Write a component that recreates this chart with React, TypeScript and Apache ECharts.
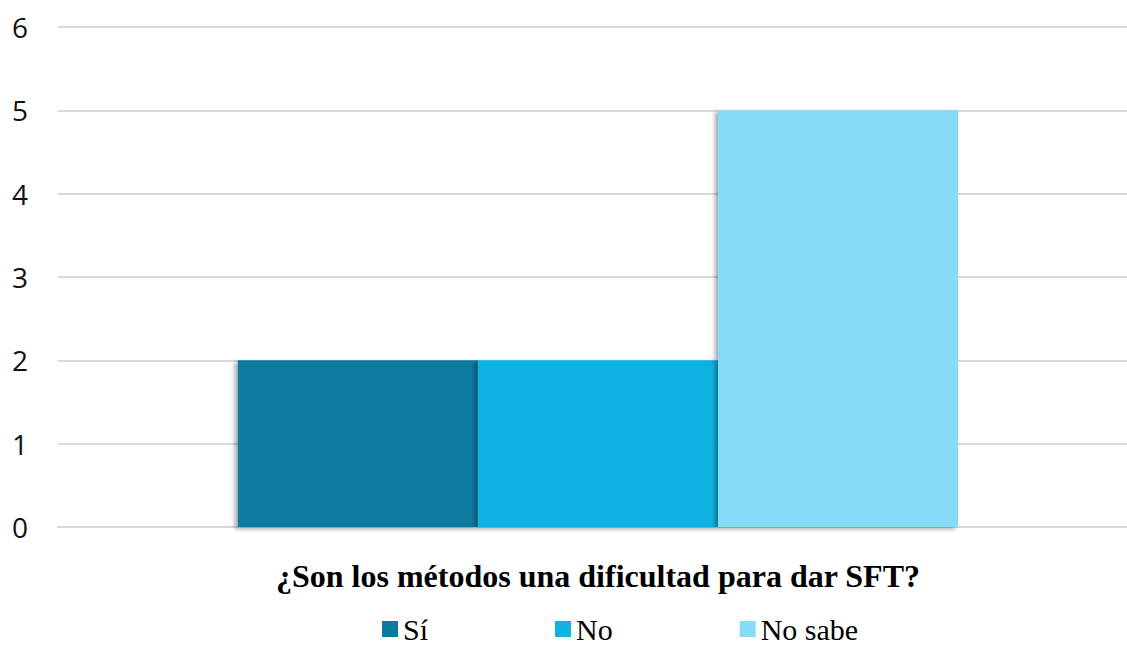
import React, { useEffect, useRef } from "react";
import * as echarts from "echarts";

const categories = ["¿Son los métodos una dificultad para dar SFT?"];
const seriesNames = ["Sí", "No", "No sabe"];
const seriesValues = [[2], [2], [5]];
const seriesColors = ["#0B7AA0", "#0FB2E3", "#86DCF7"];
const yTicks = { min: 0, max: 6, interval: 1 };

export default function App() {
  const ref = useRef<HTMLDivElement>(null);
  useEffect(() => {
    if (!ref.current) return;
    const chart = echarts.init(ref.current, null, { renderer: "svg" });
    chart.setOption({
      animation: false,
      backgroundColor: "#ffffff",
      grid: { left: 58, width: 1080, top: 27, bottom: 118, containLabel: false, outerBoundsMode: "none" },
      legend: {
        left: 377,
        top: 608,
        itemWidth: 16,
        itemHeight: 16,
        itemGap: 127,
        icon: "rect",
        textStyle: { fontFamily: "Liberation Serif", fontSize: 30, color: "#000", lineHeight: 32 },
        data: seriesNames,
      },
      xAxis: {
        type: "category",
        data: categories,
        name: categories[0],
        nameLocation: "middle",
        nameGap: 33,
        nameTextStyle: { fontFamily: "Liberation Serif", fontWeight: "bold", fontSize: 32, color: "#000" },
        axisLabel: { show: false },
        axisTick: { show: false },
        axisLine: { show: true, lineStyle: { color: "#d9d9d9", width: 2 } },
      },
      yAxis: {
        type: "value",
        min: yTicks.min,
        max: yTicks.max,
        interval: yTicks.interval,
        axisLabel: { fontFamily: "Open Sans", fontSize: 28, color: "#111", margin: 30 },
        axisLine: { show: false },
        axisTick: { show: false },
        splitLine: { lineStyle: { color: "#d9d9d9", width: 2 } },
      },
      series: seriesNames.map((name, i) => ({
        name,
        type: "bar",
        data: seriesValues[i],
        barGap: "0%",
        barCategoryGap: "33.3%",
        itemStyle: {
          color: seriesColors[i],
          shadowColor: "rgba(0,0,0,0.35)",
          shadowBlur: 4,
          shadowOffsetX: -3,
          shadowOffsetY: 2,
        },
      })),
    });
    return () => chart.dispose();
  }, []);
  return <div ref={ref} style={{ width: 1127, height: 645, position: "absolute", left: 0, top: 0 }} />;
}
